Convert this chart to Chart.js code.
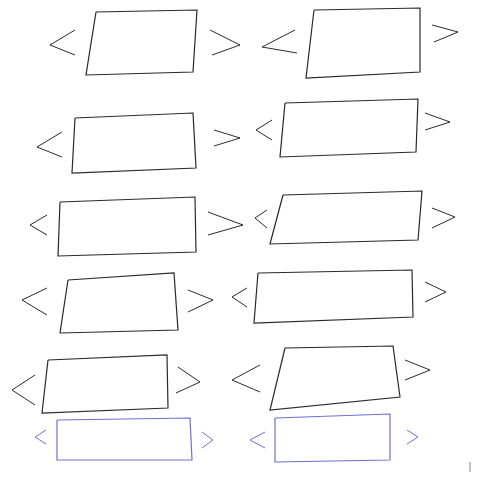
<!DOCTYPE html>
<html>
<head>
<meta charset="utf-8">
<script src="https://cdn.jsdelivr.net/npm/chart.js@4"></script>
<style>
  body { margin: 0; background: #fff; }
  #sketch { display: block; }
</style>
</head>
<body>
<canvas id="sketch" width="480" height="480"></canvas>
<script>
// sketch outlines, in page units (0..480, y down)
const boxes = [
  [[96,12],[197,10],[193,72],[86,75]],
  [[314,10],[420,8],[420,72],[306,78]],
  [[75,118],[193,113],[196,168],[72,173]],
  [[285,103],[418,99],[416,152],[280,157]],
  [[60,202],[195,197],[196,252],[58,256]],
  [[283,195],[422,191],[418,240],[270,244]],
  [[68,280],[174,273],[178,330],[60,333]],
  [[258,273],[412,270],[413,317],[254,323]],
  [[48,360],[167,355],[168,408],[42,413]],
  [[285,348],[393,346],[400,397],[270,410]],
  [[57,420],[190,418],[192,460],[57,460]],
  [[275,418],[390,414],[390,460],[275,462]]
]
const leftMarks = [
  [[75,30],[50,45],[75,55]],
  [[295,30],[262,47],[297,53]],
  [[62,132],[37,147],[62,157]],
  [[272,120],[256,130],[272,140]],
  [[47,215],[30,225],[47,235]],
  [[267,210],[255,218],[267,228]],
  [[47,288],[22,300],[47,315]],
  [[247,288],[232,297],[247,307]],
  [[35,375],[12,390],[35,405]],
  [[260,365],[232,380],[260,392]],
  [[46,430],[35,437],[46,444]],
  [[265,432],[250,440],[265,448]]
]
const rightMarks = [
  [[210,30],[240,45],[212,55]],
  [[432,25],[458,32],[434,42]],
  [[214,130],[240,138],[214,146]],
  [[425,113],[450,122],[425,130]],
  [[208,212],[243,225],[208,235]],
  [[432,208],[455,217],[432,228]],
  [[188,290],[213,300],[188,312]],
  [[425,282],[446,292],[425,302]],
  [[178,367],[200,382],[176,393]],
  [[405,360],[430,370],[405,380]],
  [[202,432],[213,440],[202,448]],
  [[407,430],[418,437],[407,444]]
]
const stray = [[470,462],[470,472]]
const blueRows = [10, 11]

const toPts = arr => arr.map(p => ({ x: p[0], y: p[1] }))
const ink = i => blueRows.includes(i) ? '#6f6fd6' : '#2a2a2a'

let datasets = []
boxes.forEach((b, i) => {
  datasets.push({ data: toPts(b.concat([b[0]])), borderColor: ink(i), borderWidth: 1.2 })
  datasets.push({ data: toPts(leftMarks[i]), borderColor: ink(i), borderWidth: 1 })
  datasets.push({ data: toPts(rightMarks[i]), borderColor: ink(i), borderWidth: 1 })
})
datasets.push({ data: toPts(stray), borderColor: '#bbbbbb', borderWidth: 1 })

new Chart(document.getElementById('sketch'), {
  type: 'scatter',
  data: { datasets: datasets.map(d => Object.assign(d, { showLine: true, pointRadius: 0, tension: 0, fill: false })) },
  options: {
    responsive: false,
    animation: false,
    layout: { padding: 0 },
    plugins: { legend: { display: false }, tooltip: { enabled: false } },
    scales: {
      x: { type: 'linear', min: 0, max: 480, display: false },
      y: { type: 'linear', min: 0, max: 480, reverse: true, display: false }
    }
  }
})
</script>
</body>
</html>
